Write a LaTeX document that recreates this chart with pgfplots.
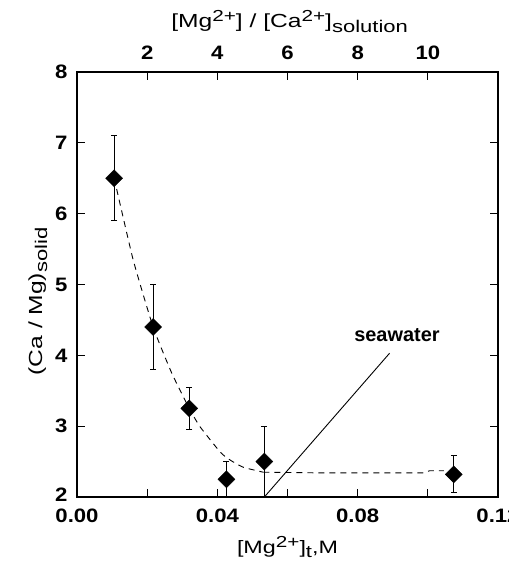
\documentclass[border=0pt]{standalone}
\usepackage{fontspec}
\setmainfont{Liberation Sans}
\newfontfamily\labfam{Liberation Sans}[FakeStretch=1.3]
\newfontfamily\tickfam{Liberation Sans}[FakeStretch=1.14]
\usepackage{pgfplots}
\pgfplotsset{compat=1.18}

\newcommand{\lblfont}{\labfam\fontsize{19}{22}\selectfont}
\newcommand{\tkfont}{\tickfam\fontsize{19.5}{22}\selectfont\bfseries}
\newcommand{\sups}[1]{\raisebox{0.32em}{\fontsize{16}{16}\selectfont #1}}
\newcommand{\subs}[1]{\raisebox{-0.27em}{\fontsize{17}{17}\selectfont #1}}

\pgfplotsset{
  refbox/.style={
    at={(0,0)}, anchor=south west,
    scale only axis, width=421bp, height=425bp,
    axis line style={line width=1.1bp},
    tick style={line width=1bp, black},
    tick align=inside,
    major tick length=8bp, minor tick length=8bp,
    /pgf/number format/assume math mode=true,
    tick label style={font=\tkfont},
    label style={font=\lblfont},
  }
}

\begin{document}
\begin{tikzpicture}
\path[use as bounding box] (-77bp,-64bp) rectangle (432bp,497bp);

\begin{axis}[
  refbox,
  xmin=0, xmax=0.12, ymin=2, ymax=8,
  xtick={0,0.04,0.08,0.12},
  xticklabels={0.00,0.04,0.08,0.12},
  minor xtick={0.02,0.06,0.10},
  xtick pos=bottom,
  ytick={2,3,4,5,6,7,8},
  yticklabels={\raisebox{5bp}{2},3,4,5,6,7,\raisebox{-3bp}{8}},
  ytick pos=both, yticklabel pos=left,
  xticklabel style={yshift=-8bp},
  yticklabel style={xshift=-6bp},
  xlabel={\fontsize{18}{20}\selectfont[Mg\sups{2+}]\subs{t},M},
  xlabel style={at={(axis description cs:0.5,-0.118)}, anchor=center},
  ylabel={(Ca / Mg)\subs{solid}},
  ylabel style={at={(axis description cs:-0.093,0.46)}, anchor=center},
  clip=false,
]
  % dashed guide curve
  \addplot[black, line width=0.9bp, dash pattern=on 6bp off 5bp, smooth, tension=0.3] coordinates {
    (0.0106,6.5) (0.0160,5.35) (0.0217,4.4) (0.0270,3.75) (0.0320,3.25)
    (0.0351,2.99) (0.0409,2.63) (0.0437,2.52) (0.0474,2.42) (0.0531,2.35)
  };
  \addplot[black, line width=0.9bp, dash pattern=on 6bp off 5bp] coordinates {
    (0.0531,2.35) (0.0700,2.34) (0.0985,2.34) (0.1005,2.37) (0.1046,2.37)
  };
  % seawater line
  \addplot[black, line width=0.9bp] coordinates {(0.0534,2.0) (0.0891,4.03)};
  \node[font=\fontsize{20}{22}\selectfont\bfseries, anchor=center] at (axis cs:0.0912,4.29) {seawater};
  % data with error bars
  \addplot[only marks, black, mark=square*, mark size=6bp,
    mark options={rotate=45, fill=black},
    error bars/.cd, y dir=both, y explicit,
    error bar style={line width=1bp, black},
    error mark options={rotate=90, mark size=3bp, line width=1bp}]
    coordinates {
    (0.0106,6.5)  +- (0,0.6)
    (0.0217,4.4)  +- (0,0.6)
    (0.0320,3.25) +- (0,0.3)
    (0.0426,2.25) +- (0,0.25)
    (0.0534,2.5)  +- (0,0.5)
    (0.1074,2.32) +- (0,0.26)
  };
\end{axis}

\begin{axis}[
  refbox,
  xmin=0, xmax=12, ymin=2, ymax=8,
  axis x line*=top, axis y line=none,
  xtick={2,4,6,8,10},
  xticklabel style={yshift=9bp},
  xlabel={[Mg\sups{2+}] / [Ca\sups{2+}]\subs{solution}},
  xlabel style={at={(axis description cs:0.505,1.118)}, anchor=center},
]
  \addplot[draw=none] coordinates {(0,2) (12,8)};
\end{axis}
\end{tikzpicture}
\end{document}
